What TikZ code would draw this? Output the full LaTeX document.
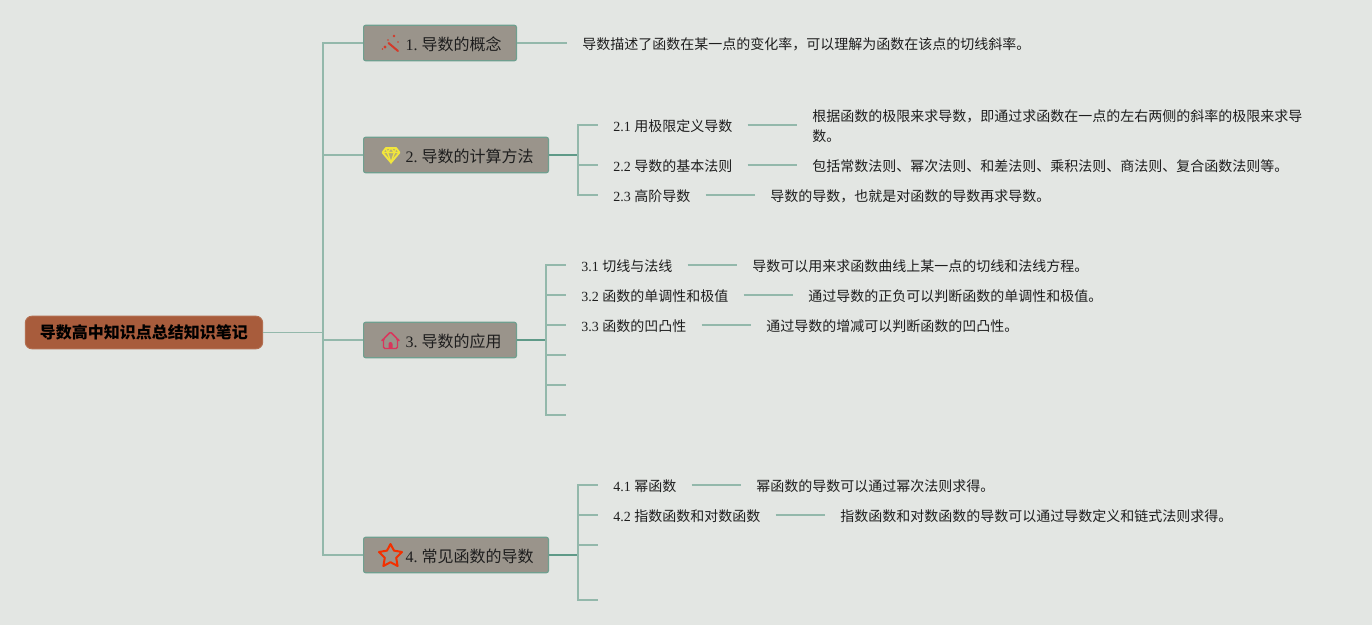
\documentclass[tikz,border=0pt]{standalone}
\usepackage{fontspec}
\setmainfont{Liberation Serif}
\newfontfamily\cjk{Noto Sans CJK SC}
\newfontfamily\cjkb{Noto Sans CJK SC Bold}
\definecolor{bgc}{HTML}{E3E6E3}
\definecolor{rootc}{HTML}{A85C3C}
\definecolor{rootb}{HTML}{B26E50}
\definecolor{boxc}{HTML}{9A948B}
\definecolor{boxb}{HTML}{6F9F8F}
\definecolor{linec}{HTML}{93B8AB}
\definecolor{stemc}{HTML}{5F9A88}
\definecolor{txtc}{HTML}{1E1E1E}
\newcommand{\zh}[1]{{\cjk #1}}
\newcommand{\lw}[1]{\raisebox{-0.75pt}[\height][\depth]{#1}}
\newcommand{\tlab}[3]{\makebox[#1][l]{\hspace*{31.5pt}\lw{#2\ \zh{#3}}}}
\tikzset{
  x=0.75pt,y=-0.75pt,
  conn/.style={draw=linec,line width=0.9pt},
  stem/.style={draw=stemc,line width=1.3pt},
  rootbox/.style={draw=rootb,line width=0.75pt,fill=rootc,rounded corners=5pt,minimum width=178pt,minimum height=24.5pt,inner sep=0pt,font=\bfseries\fontsize{12}{15}\selectfont,text=black},
  topic/.style={draw=boxb,line width=0.9pt,fill=boxc,rounded corners=1.5pt,minimum height=26.5pt,inner sep=0pt,font=\fontsize{12}{15}\selectfont,text=txtc,anchor=west},
  sub/.style={inner xsep=11.25pt,inner ysep=0pt,anchor=west,font=\fontsize{10.5}{15}\selectfont,text=txtc},
  leaf/.style={inner xsep=11.25pt,inner ysep=0pt,anchor=west,align=left,font=\fontsize{10.5}{15}\selectfont,text=txtc},
}
\begin{document}
\begin{tikzpicture}
\useasboundingbox[fill=bgc] (0,0) rectangle (1372,625);
% root and topics
\node[rootbox] (root) at (144,332.5) {\cjkb 导数高中知识点总结知识笔记};
\node[topic] (t1) at (363,43) {\tlab{114.6pt}{1.}{导数的概念}};
\node[topic] (t2) at (363,155) {\tlab{138.6pt}{2.}{导数的计算方法}};
\node[topic] (t3) at (363,340) {\tlab{114.6pt}{3.}{导数的应用}};
\node[topic] (t4) at (363,555) {\tlab{138.6pt}{4.}{常见函数的导数}};
\coordinate (trunk) at (323,332.5);
\draw[conn] (root.east) -- (trunk);
\foreach \t in {t1,t2,t3,t4} \draw[conn] (trunk) |- (\t.west);
% topic 1
\node[leaf] (l1) at (567,43) {\lw{\zh{导数描述了函数在某一点的变化率，可以理解为函数在该点的切线斜率。}}};
\draw[conn] (t1.east) -- (l1.west);
% topic 2
\coordinate (b2) at (578,155);
\draw[stem] (t2.east) -- (b2);
\node[sub] (s21) at (598,125) {\lw{2.1 \zh{用极限定义导数}}};
\node[sub] (s22) at (598,165) {\lw{2.2 \zh{导数的基本法则}}};
\node[sub] (s23) at (598,195) {\lw{2.3 \zh{高阶导数}}};
\foreach \s in {s21,s22,s23} \draw[conn] (b2) |- (\s.west);
\node[leaf] (l21) at (797,125) {\lw{\shortstack[l]{\zh{根据函数的极限来求导数，即通过求函数在一点的左右两侧的斜率的极限来求导}\\[2.2pt]\zh{数。}}}};
\node[leaf] (l22) at (797,165) {\lw{\zh{包括常数法则、幂次法则、和差法则、乘积法则、商法则、复合函数法则等。}}};
\node[leaf] (l23) at (755,195) {\lw{\zh{导数的导数，也就是对函数的导数再求导数。}}};
\draw[conn] (s21.east) -- (l21.west);
\draw[conn] (s22.east) -- (l22.west);
\draw[conn] (s23.east) -- (l23.west);
% topic 3
\coordinate (b3) at (546,340);
\draw[stem] (t3.east) -- (b3);
\node[sub] (s31) at (566,265) {\lw{3.1 \zh{切线与法线}}};
\node[sub] (s32) at (566,295) {\lw{3.2 \zh{函数的单调性和极值}}};
\node[sub] (s33) at (566,325) {\lw{3.3 \zh{函数的凹凸性}}};
\coordinate (s34) at (566,355);
\coordinate (s35) at (566,385);
\coordinate (s36) at (566,415);
\foreach \s in {s31.west,s32.west,s33.west,s34,s35,s36} \draw[conn] (b3) |- (\s);
\node[leaf] (l31) at (737,265) {\lw{\zh{导数可以用来求函数曲线上某一点的切线和法线方程。}}};
\node[leaf] (l32) at (793,295) {\lw{\zh{通过导数的正负可以判断函数的单调性和极值。}}};
\node[leaf] (l33) at (751,325) {\lw{\zh{通过导数的增减可以判断函数的凹凸性。}}};
\draw[conn] (s31.east) -- (l31.west);
\draw[conn] (s32.east) -- (l32.west);
\draw[conn] (s33.east) -- (l33.west);
% topic 4
\coordinate (b4) at (578,555);
\draw[stem] (t4.east) -- (b4);
\node[sub] (s41) at (598,485) {\lw{4.1 \zh{幂函数}}};
\node[sub] (s42) at (598,515) {\lw{4.2 \zh{指数函数和对数函数}}};
\coordinate (s43) at (598,545);
\coordinate (s44) at (598,600);
\foreach \s in {s41.west,s42.west,s43,s44} \draw[conn] (b4) |- (\s);
\node[leaf] (l41) at (741,485) {\lw{\zh{幂函数的导数可以通过幂次法则求得。}}};
\node[leaf] (l42) at (825,515) {\lw{\zh{指数函数和对数函数的导数可以通过导数定义和链式法则求得。}}};
\draw[conn] (s41.east) -- (l41.west);
\draw[conn] (s42.east) -- (l42.west);
% icons
\definecolor{icr}{HTML}{D43A2A}
\draw[icr,line width=1.5pt,line cap=round] (388.5,43) -- (398,51);
\fill[icr] (385,47) circle [radius=1.3pt] (382.5,49) circle [radius=0.7pt] (394,36) circle [radius=1.1pt] (398,42) circle [radius=0.6pt] (388,40) circle [radius=0.6pt];
\begin{scope}[shift={(391,155)}]
\definecolor{icy}{HTML}{F2E63C}
\draw[icy,line width=1.4pt,line join=round,fill=icy!30!boxc] (-5,-7) -- (5,-7) -- (8.5,-2.5) -- (0,7.5) -- (-8.5,-2.5) -- cycle;
\draw[icy,line width=1pt] (-8.5,-2.5) -- (8.5,-2.5) (-3.5,-2.5) -- (0,7.5) -- (3.5,-2.5) (-5,-7) -- (-3.5,-2.5) (5,-7) -- (3.5,-2.5) (0,-7) -- (-3.5,-2.5) (0,-7) -- (3.5,-2.5);
\end{scope}
\begin{scope}[shift={(390.5,340.5)}]
\definecolor{ich}{HTML}{D9365C}
\draw[ich,line width=1.1pt,line join=round,rounded corners=1pt] (-7,8) -- (-7,-1.5) -- (0,-8.5) -- (7,-1.5) -- (7,8) -- cycle;
\draw[ich,line width=1.1pt,line cap=round] (-8.5,0) -- (-7,-1.5) (7,-1.5) -- (8.5,0);
\fill[ich] (-2,8) -- (-2,3.5) arc [start angle=180,end angle=0,radius=1.5pt] -- (2,8) -- cycle;
\end{scope}
\draw[draw=red!60!orange!95!black,line width=1.5pt,line join=round]
  (390.5,544) -- (394,550.6) -- (402,552) -- (396.2,557.8) -- (397.6,566) -- (390.5,562.2) -- (383.4,566) -- (384.8,557.8) -- (379,552) -- (387,550.6) -- cycle;
\end{tikzpicture}
\end{document}
